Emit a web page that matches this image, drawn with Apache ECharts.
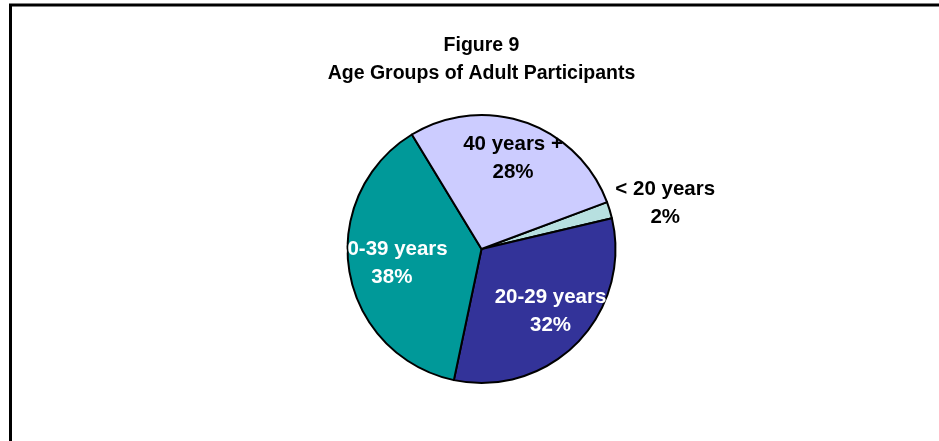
<!DOCTYPE html>
<html>
<head>
<meta charset="utf-8">
<script src="https://cdn.jsdelivr.net/npm/echarts@6/dist/echarts.min.js"></script>
<style>
  html, body { margin: 0; padding: 0; background: #fff; }
  #chart { width: 939px; height: 441px; }
</style>
</head>
<body>
<div id="chart"></div>
<script>
const titleLines = ['Figure 9', 'Age Groups of Adult Participants'];
const ageGroups = ['< 20 years', '20-29 years', '30-39 years', '40 years +'];
const shares = [2, 32, 38, 28];

const sliceColors = ['#B7E0E0', '#333399', '#009999', '#CCCCFF'];
const labelColors = ['#000', '#fff', '#fff', '#000'];

const font = 'Liberation Sans, Arial, sans-serif';
const center = [481.5, 249];

const chart = echarts.init(document.getElementById('chart'));

// slices drawn by the main pie; only the small slice keeps its outside label
const sliceData = ageGroups.map((name, i) => ({
  name,
  value: shares[i],
  itemStyle: { color: sliceColors[i] },
  label: i === 0 ? {
    show: true,
    position: 'outside',
    formatter: p => `{a|${p.name}}\n{a|${p.percent}%}`,
    padding: [0, 0, 13, 0],
    rich: {
      a: { width: 101, align: 'center', fontSize: 20.5, fontWeight: 'bold',
           fontFamily: font, color: labelColors[i], lineHeight: 28 }
    }
  } : { show: false },
  labelLine: { show: false, length: 0, length2: 0 }
}));

// transparent helper pie, only used to place the inside labels
const labelData = ageGroups.map((name, i) => ({
  name,
  value: shares[i],
  label: i === 0 ? { show: false } : {
    show: true,
    position: 'inside',
    color: labelColors[i]
  }
}));

chart.setOption({
  animation: false,
  title: {
    text: titleLines.join('\n'),
    left: center[0],
    textAlign: 'center',
    top: 32,
    padding: 0,
    textStyle: {
      fontFamily: font,
      fontSize: 19.5,
      fontWeight: 'bold',
      color: '#000',
      lineHeight: 28
    }
  },
  graphic: [{
    type: 'rect',
    shape: { x: 10.5, y: 5, width: 2000, height: 2000 },
    style: { fill: 'none', stroke: '#000', lineWidth: 3 },
    silent: true
  }],
  series: [
    {
      type: 'pie',
      center: center,
      radius: 134,
      startAngle: 20.5,
      clockwise: true,
      avoidLabelOverlap: false,
      silent: true,
      itemStyle: { borderColor: '#000', borderWidth: 2 },
      emphasis: { disabled: true },
      data: sliceData
    },
    {
      type: 'pie',
      center: [483.4, 246.5],
      radius: 180,
      startAngle: 21,
      clockwise: true,
      silent: true,
      z: 3,
      itemStyle: { color: 'rgba(0,0,0,0)', borderWidth: 0 },
      emphasis: { disabled: true },
      label: {
        formatter: p => `${p.name}\n${p.percent}%`,
        fontFamily: font,
        fontSize: 20.5,
        fontWeight: 'bold',
        lineHeight: 28
      },
      labelLine: { show: false },
      data: labelData
    }
  ]
});
</script>
</body>
</html>
